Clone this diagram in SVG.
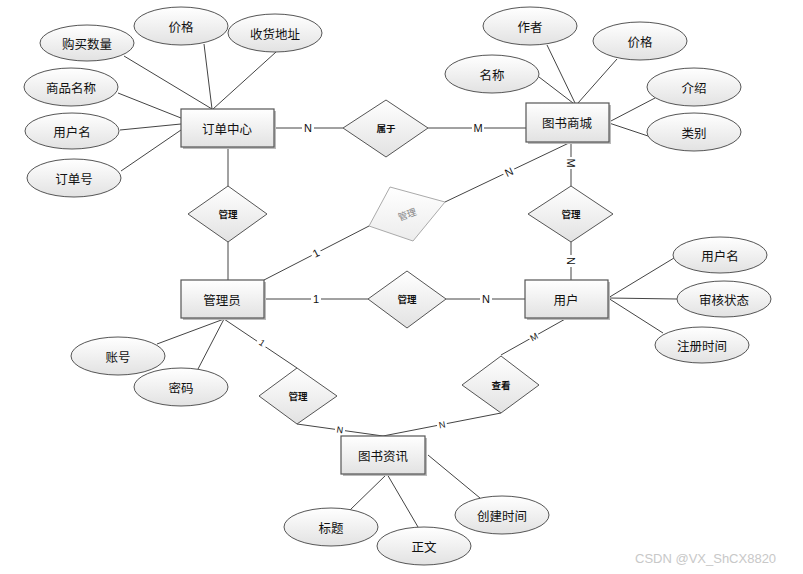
<svg xmlns="http://www.w3.org/2000/svg" width="803" height="574" viewBox="0 0 803 574">
<defs>
<linearGradient id="g" x1="0" y1="0" x2="0" y2="1">
<stop offset="0" stop-color="#ffffff"/>
<stop offset="1" stop-color="#e2e2e2"/>
</linearGradient>
<linearGradient id="g2" x1="0" y1="0" x2="0" y2="1">
<stop offset="0" stop-color="#ffffff"/>
<stop offset="1" stop-color="#ececec"/>
</linearGradient>
<style>
.e{fill:url(#g);stroke:#555;stroke-width:1}
.r{fill:url(#g);stroke:#555;stroke-width:1.2}
.sh{fill:#bbb;stroke:none}
.d{fill:url(#g);stroke:#555;stroke-width:1}
.gd{fill:url(#g2);stroke:#aaa;stroke-width:1}
.t{font-family:"Noto Sans CJK SC","Liberation Sans",sans-serif;font-size:12.5px;fill:#111;text-anchor:middle;dominant-baseline:central}
.dt{font-family:"Noto Sans CJK SC","Liberation Sans",sans-serif;font-size:9.5px;font-weight:bold;fill:#111;text-anchor:middle;dominant-baseline:central}
.gt{font-family:"Noto Sans CJK SC","Liberation Sans",sans-serif;font-size:9.5px;fill:#888;text-anchor:middle;dominant-baseline:central}
.l{stroke:#444;stroke-width:1;fill:none}
.lb{font-family:"Liberation Sans",sans-serif;font-size:11px;fill:#111;text-anchor:middle;dominant-baseline:central}
.lbs{font-family:"Liberation Sans",sans-serif;font-size:9px;fill:#111;text-anchor:middle;dominant-baseline:central}
.wm{font-family:"Liberation Sans",sans-serif;font-size:13px;fill:#c8c8c8}
</style>
</defs>
<rect width="803" height="574" fill="#fff"/>
<g id="connectors">
<line class="l" x1="124" y1="56" x2="212" y2="109"/>
<line class="l" x1="204" y1="44" x2="212" y2="109"/>
<line class="l" x1="276" y1="52" x2="213" y2="109"/>
<line class="l" x1="118" y1="93" x2="181" y2="118"/>
<line class="l" x1="120" y1="130" x2="181" y2="124"/>
<line class="l" x1="121" y1="171" x2="181" y2="130"/>
<line class="l" x1="539" y1="77" x2="573" y2="103"/>
<line class="l" x1="547" y1="45" x2="575" y2="103"/>
<line class="l" x1="617" y1="59" x2="578" y2="103"/>
<line class="l" x1="655" y1="98" x2="609" y2="122"/>
<line class="l" x1="609" y1="123" x2="648" y2="136"/>
<line class="l" x1="274" y1="128" x2="343" y2="128"/>
<line class="l" x1="428" y1="128" x2="526" y2="128"/>
<line class="l" x1="228" y1="147" x2="228" y2="186"/>
<line class="l" x1="228" y1="242" x2="228" y2="280"/>
<line class="l" x1="264" y1="280" x2="369" y2="226"/>
<line class="l" x1="445" y1="202" x2="571" y2="142"/>
<line class="l" x1="571" y1="142" x2="571" y2="186"/>
<line class="l" x1="571" y1="242" x2="571" y2="280"/>
<line class="l" x1="264" y1="299" x2="368" y2="299"/>
<line class="l" x1="446" y1="299" x2="525" y2="299"/>
<line class="l" x1="608" y1="298" x2="674" y2="258"/>
<line class="l" x1="608" y1="298" x2="677" y2="299"/>
<line class="l" x1="608" y1="298" x2="663" y2="333"/>
<line class="l" x1="567" y1="318" x2="501" y2="355"/>
<line class="l" x1="501" y1="413" x2="383" y2="436"/>
<line class="l" x1="224" y1="319" x2="297" y2="368"/>
<line class="l" x1="297" y1="424" x2="383" y2="436"/>
<line class="l" x1="157" y1="344" x2="224" y2="319"/>
<line class="l" x1="198" y1="369" x2="224" y2="319"/>
<line class="l" x1="350" y1="510" x2="387" y2="474"/>
<line class="l" x1="418" y1="527" x2="387" y2="474"/>
<line class="l" x1="480" y1="498" x2="428" y2="455"/>
<g>
<rect x="302" y="122" width="12" height="12" fill="#fff"/><text class="lb" x="308" y="128">N</text>
<rect x="472" y="122" width="12" height="12" fill="#fff"/><text class="lb" x="478" y="128">M</text>
<rect x="311" y="247" width="10" height="12" fill="#fff" transform="rotate(-27 316 253)"/><text class="lb" x="316" y="253" transform="rotate(-27 316 253)">1</text>
<rect x="503" y="166" width="12" height="12" fill="#fff" transform="rotate(-25 509 172)"/><text class="lb" x="509" y="172" transform="rotate(-25 509 172)">N</text>
<rect x="565" y="157" width="12" height="12" fill="#fff" transform="rotate(90 571 163)"/><text class="lb" x="571" y="163" transform="rotate(90 571 163)">M</text>
<rect x="565" y="255" width="12" height="12" fill="#fff" transform="rotate(90 571 261)"/><text class="lb" x="571" y="261" transform="rotate(90 571 261)">N</text>
<rect x="311" y="293" width="10" height="12" fill="#fff"/><text class="lb" x="316" y="299">1</text>
<rect x="480" y="293" width="12" height="12" fill="#fff"/><text class="lb" x="486" y="299">N</text>
<rect x="529" y="332" width="10" height="10" fill="#fff" transform="rotate(-29 534 337)"/><text class="lbs" x="534" y="337" transform="rotate(-29 534 337)">M</text>
<rect x="437" y="420" width="10" height="10" fill="#fff" transform="rotate(-11 442 425)"/><text class="lbs" x="442" y="425" transform="rotate(-11 442 425)">N</text>
<rect x="257" y="338" width="10" height="10" fill="#fff" transform="rotate(34 262 343)"/><text class="lbs" x="262" y="343" transform="rotate(34 262 343)">1</text>
<rect x="335" y="425" width="10" height="10" fill="#fff" transform="rotate(8 340 430)"/><text class="lbs" x="340" y="430" transform="rotate(8 340 430)">N</text>
</g>
</g>
<g id="n-orders"><rect class="sh" x="183" y="111" width="93" height="38"/><rect class="r" x="181" y="109" width="93" height="38"/><text class="t" x="227" y="128">订单中心</text></g>
<g id="n-mall"><rect class="sh" x="528" y="105" width="83" height="39"/><rect class="r" x="526" y="103" width="83" height="39"/><text class="t" x="567" y="122">图书商城</text></g>
<g id="n-admin"><rect class="sh" x="183" y="282" width="83" height="38"/><rect class="r" x="181" y="280" width="83" height="38"/><text class="t" x="222" y="299">管理员</text></g>
<g id="n-user"><rect class="sh" x="527" y="282" width="83" height="38"/><rect class="r" x="525" y="280" width="83" height="38"/><text class="t" x="566" y="299">用户</text></g>
<g id="n-news"><rect class="sh" x="343" y="438" width="84" height="38"/><rect class="r" x="341" y="436" width="84" height="38"/><text class="t" x="383" y="455">图书资讯</text></g>
<g id="r-belong"><polygon class="d" points="343,128 386,100 428,128 386,157"/><text class="dt" x="386" y="128">属于</text></g>
<g id="r-manage1"><polygon class="d" points="188,214 228,186 267,214 228,242"/><text class="dt" x="228" y="214">管理</text></g>
<g id="r-manage2"><polygon class="gd" points="369,226 390,187 445,202 413,241"/><text class="gt" x="407" y="214" transform="rotate(-20 407 214)">管理</text></g>
<g id="r-manage3"><polygon class="d" points="528,214 571,186 613,214 571,242"/><text class="dt" x="571" y="214">管理</text></g>
<g id="r-manage4"><polygon class="d" points="368,299 407,271 446,299 407,328"/><text class="dt" x="407" y="299">管理</text></g>
<g id="r-manage5"><polygon class="d" points="259,396 297,368 337,396 297,424"/><text class="dt" x="298" y="396">管理</text></g>
<g id="r-view"><polygon class="d" points="462,385 501,356 539,385 501,413"/><text class="dt" x="501" y="385">查看</text></g>
<g id="a-qty"><ellipse class="e" cx="87" cy="43" rx="47" ry="18"/><text class="t" x="87" y="43">购买数量</text></g>
<g id="a-price1"><ellipse class="e" cx="181" cy="26" rx="47" ry="19"/><text class="t" x="181" y="26">价格</text></g>
<g id="a-addr"><ellipse class="e" cx="275" cy="33" rx="47" ry="19"/><text class="t" x="275" y="33">收货地址</text></g>
<g id="a-pname"><ellipse class="e" cx="71" cy="87" rx="47" ry="19"/><text class="t" x="71" y="87">商品名称</text></g>
<g id="a-uname1"><ellipse class="e" cx="72" cy="131" rx="47" ry="18"/><text class="t" x="72" y="131">用户名</text></g>
<g id="a-ordno"><ellipse class="e" cx="74" cy="178" rx="47" ry="19"/><text class="t" x="74" y="178">订单号</text></g>
<g id="a-author"><ellipse class="e" cx="530" cy="26" rx="47" ry="19"/><text class="t" x="530" y="26">作者</text></g>
<g id="a-price2"><ellipse class="e" cx="640" cy="41" rx="47" ry="19"/><text class="t" x="640" y="41">价格</text></g>
<g id="a-name"><ellipse class="e" cx="492" cy="74" rx="47" ry="19"/><text class="t" x="492" y="74">名称</text></g>
<g id="a-intro"><ellipse class="e" cx="694" cy="87" rx="47" ry="19"/><text class="t" x="694" y="87">介绍</text></g>
<g id="a-cat"><ellipse class="e" cx="694" cy="132" rx="47" ry="19"/><text class="t" x="694" y="132">类别</text></g>
<g id="a-uname2"><ellipse class="e" cx="720" cy="255" rx="47" ry="18"/><text class="t" x="720" y="255">用户名</text></g>
<g id="a-status"><ellipse class="e" cx="724" cy="299" rx="47" ry="18"/><text class="t" x="724" y="299">审核状态</text></g>
<g id="a-regtime"><ellipse class="e" cx="702" cy="345" rx="47" ry="18"/><text class="t" x="702" y="345">注册时间</text></g>
<g id="a-acct"><ellipse class="e" cx="118" cy="356" rx="47" ry="19"/><text class="t" x="118" y="356">账号</text></g>
<g id="a-pwd"><ellipse class="e" cx="181" cy="387" rx="47" ry="19"/><text class="t" x="181" y="387">密码</text></g>
<g id="a-title"><ellipse class="e" cx="331" cy="527" rx="47" ry="19"/><text class="t" x="331" y="527">标题</text></g>
<g id="a-body"><ellipse class="e" cx="424" cy="546" rx="47" ry="19"/><text class="t" x="424" y="546">正文</text></g>
<g id="a-ctime"><ellipse class="e" cx="502" cy="515" rx="47" ry="19"/><text class="t" x="502" y="515">创建时间</text></g>
<text class="wm" x="635" y="563">CSDN @VX_ShCX8820</text>
</svg>
